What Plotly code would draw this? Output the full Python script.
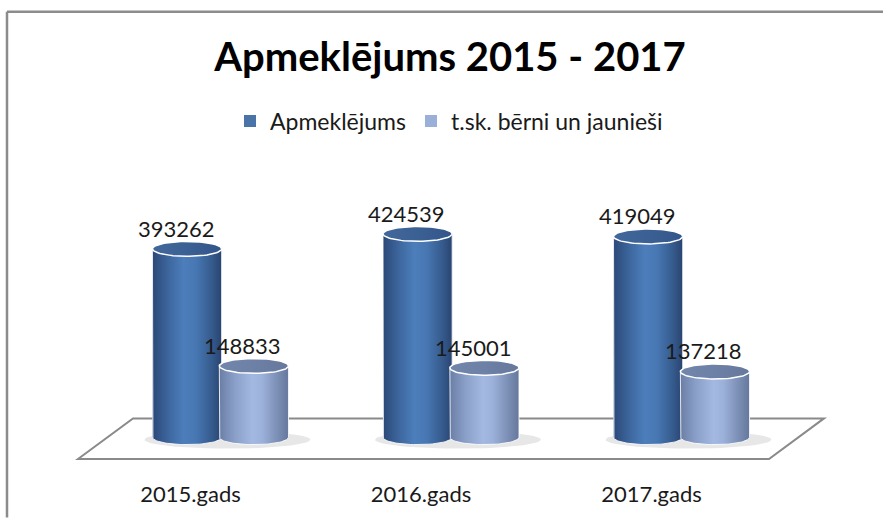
import numpy as np
import plotly.graph_objects as go

# ---- data ----
categories = ["2015.gads", "2016.gads", "2017.gads"]
visits = [393262, 424539, 419049]          # Apmeklējums
youth = [148833, 145001, 137218]           # t.sk. bērni un jaunieši
series_names = ["Apmeklējums", "t.sk. bērni un jaunieši"]
title_text = "Apmeklējums 2015 - 2017"

# ---- layout geometry ----
W, H = 883, 519
ML, MR, MT, MB = 78, 56, 170, 57
PW, PH = W - ML - MR, H - MT - MB
XR = [-0.618, 2.631]
K = 0.000484                      # pixels per unit on the value axis
ZERO_PX = 22                      # zero sits 22px above the plot bottom
YR = [-ZERO_PX / K, (PH - ZERO_PX) / K]
BAR_W = 0.30
OFFS = [-0.145, 0.145]
EH = 7.5 / K                      # ellipse half-height in data units
FONT = "Lato, Calibri, 'Open Sans', sans-serif"

body_scales = [
    [[0, "#2b4877"], [0.22, "#3c659c"], [0.45, "#4c7ebb"], [0.62, "#4878b4"], [0.85, "#365c8f"], [1, "#294470"]],
    [[0, "#6a7ea5"], [0.22, "#8a9fc8"], [0.48, "#a3b9e1"], [0.62, "#9cb1da"], [0.85, "#7a8db3"], [1, "#65779c"]],
]
cap_scales = [
    [[0, "#42679b"], [0.5, "#3b6094"], [1, "#33568a"]],
    [[0, "#7286ab"], [0.5, "#6d80a5"], [1, "#66789c"]],
]
bar_colors = ["#4a73a8", "#9bb0d9"]


def px_x(px):
    return (px - ML) / PW


def px_y(py):
    return 1 - (py - MT) / PH


fig = go.Figure()

# shadows under each pair
t = np.linspace(0, 2 * np.pi, 60)
for i in range(len(categories)):
    cx = i + 0.03
    fig.add_trace(go.Scatter(
        x=cx + 0.36 * np.cos(t), y=-2.5 / K + 9 / K * np.sin(t),
        fill="toself", mode="lines", line=dict(width=0),
        fillcolor="rgba(120,120,120,0.18)", showlegend=False, hoverinfo="skip"))

# legend-carrying bar traces (actual values)
for s, vals in enumerate([visits, youth]):
    fig.add_trace(go.Bar(
        x=[i + OFFS[s] for i in range(len(categories))], y=vals, width=BAR_W,
        name=series_names[s], marker=dict(color=bar_colors[s], line=dict(width=0)),
        hovertemplate="%{y}<extra>" + series_names[s] + "</extra>"))

# cylinder bodies + caps drawn from the same values
a = BAR_W / 2
tb = np.linspace(np.pi, 2 * np.pi, 40)
tc = np.linspace(0, 2 * np.pi, 80)
for i in range(len(categories)):
    for s, vals in enumerate([visits, youth]):
        c = i + OFFS[s]
        v = vals[i]
        bx = [c - a] + list(c + a * np.cos(tb)) + [c + a, c - a]
        by = [v] + list(EH * np.sin(tb)) + [v, v]
        fig.add_trace(go.Scatter(
            x=bx, y=by, fill="toself", mode="lines",
            line=dict(color="rgba(255,255,255,0.85)", width=1),
            fillgradient=dict(type="horizontal", colorscale=body_scales[s]),
            showlegend=False, hoverinfo="skip"))
        fig.add_trace(go.Scatter(
            x=c + a * np.cos(tc), y=v + EH * np.sin(tc), fill="toself", mode="lines",
            line=dict(color="white", width=1.5),
            fillgradient=dict(type="horizontal", colorscale=cap_scales[s]),
            showlegend=False, hoverinfo="skip"))

# data labels
for s, vals in enumerate([visits, youth]):
    for i, v in enumerate(vals):
        fig.add_annotation(
            x=i + OFFS[s], y=v, text=str(v), showarrow=False,
            yanchor="bottom", yshift=5, xshift=-11,
            font=dict(family=FONT, size=22, color="#1a1a1a"))

# floor parallelogram and outer frame
fig.add_shape(type="path", xref="paper", yref="paper", layer="below",
              path=f"M {px_x(78)} {px_y(462)} L {px_x(133)} {px_y(421)} L {px_x(824)} {px_y(421)} "
                   f"L {px_x(769)} {px_y(462)} Z",
              line=dict(color="#8a8a8a", width=2), fillcolor="white")
fig.add_shape(type="line", xref="paper", yref="paper",
              x0=px_x(7), y0=px_y(10), x1=px_x(W + 2), y1=px_y(10),
              line=dict(color="#8c8c8c", width=2.5))
fig.add_shape(type="line", xref="paper", yref="paper",
              x0=px_x(7), y0=px_y(10), x1=px_x(7), y1=px_y(H + 2),
              line=dict(color="#8c8c8c", width=2.5))

fig.update_layout(
    width=W, height=H,
    margin=dict(l=ML, r=MR, t=MT, b=MB),
    paper_bgcolor="white", plot_bgcolor="rgba(0,0,0,0)",
    barmode="overlay",
    title=dict(text=title_text, x=450 / W, xanchor="center", xref="container",
               y=1 - 57 / H, yanchor="middle", yref="container",
               font=dict(family=FONT, size=40, color="black", weight="bold")),
    legend=dict(orientation="h", x=230 / W, xanchor="left", xref="container",
                y=1 - 121 / H, yanchor="middle", yref="container",
                font=dict(family=FONT, size=23, color="#1a1a1a"),
                itemwidth=30, bgcolor="rgba(0,0,0,0)"),
    xaxis=dict(range=XR, tickvals=[i - 0.13 for i in range(len(categories))],
               ticktext=categories, showgrid=False, zeroline=False, showline=False,
               ticks="outside", ticklen=16, tickcolor="rgba(0,0,0,0)",
               tickfont=dict(family=FONT, size=22, color="#1a1a1a"), fixedrange=True),
    yaxis=dict(range=YR, visible=False, fixedrange=True),
    showlegend=True,
)

fig.write_html("out.html", config={"displayModeBar": False},
               post_script="document.body.style.margin='0';document.body.style.overflow='hidden';")
